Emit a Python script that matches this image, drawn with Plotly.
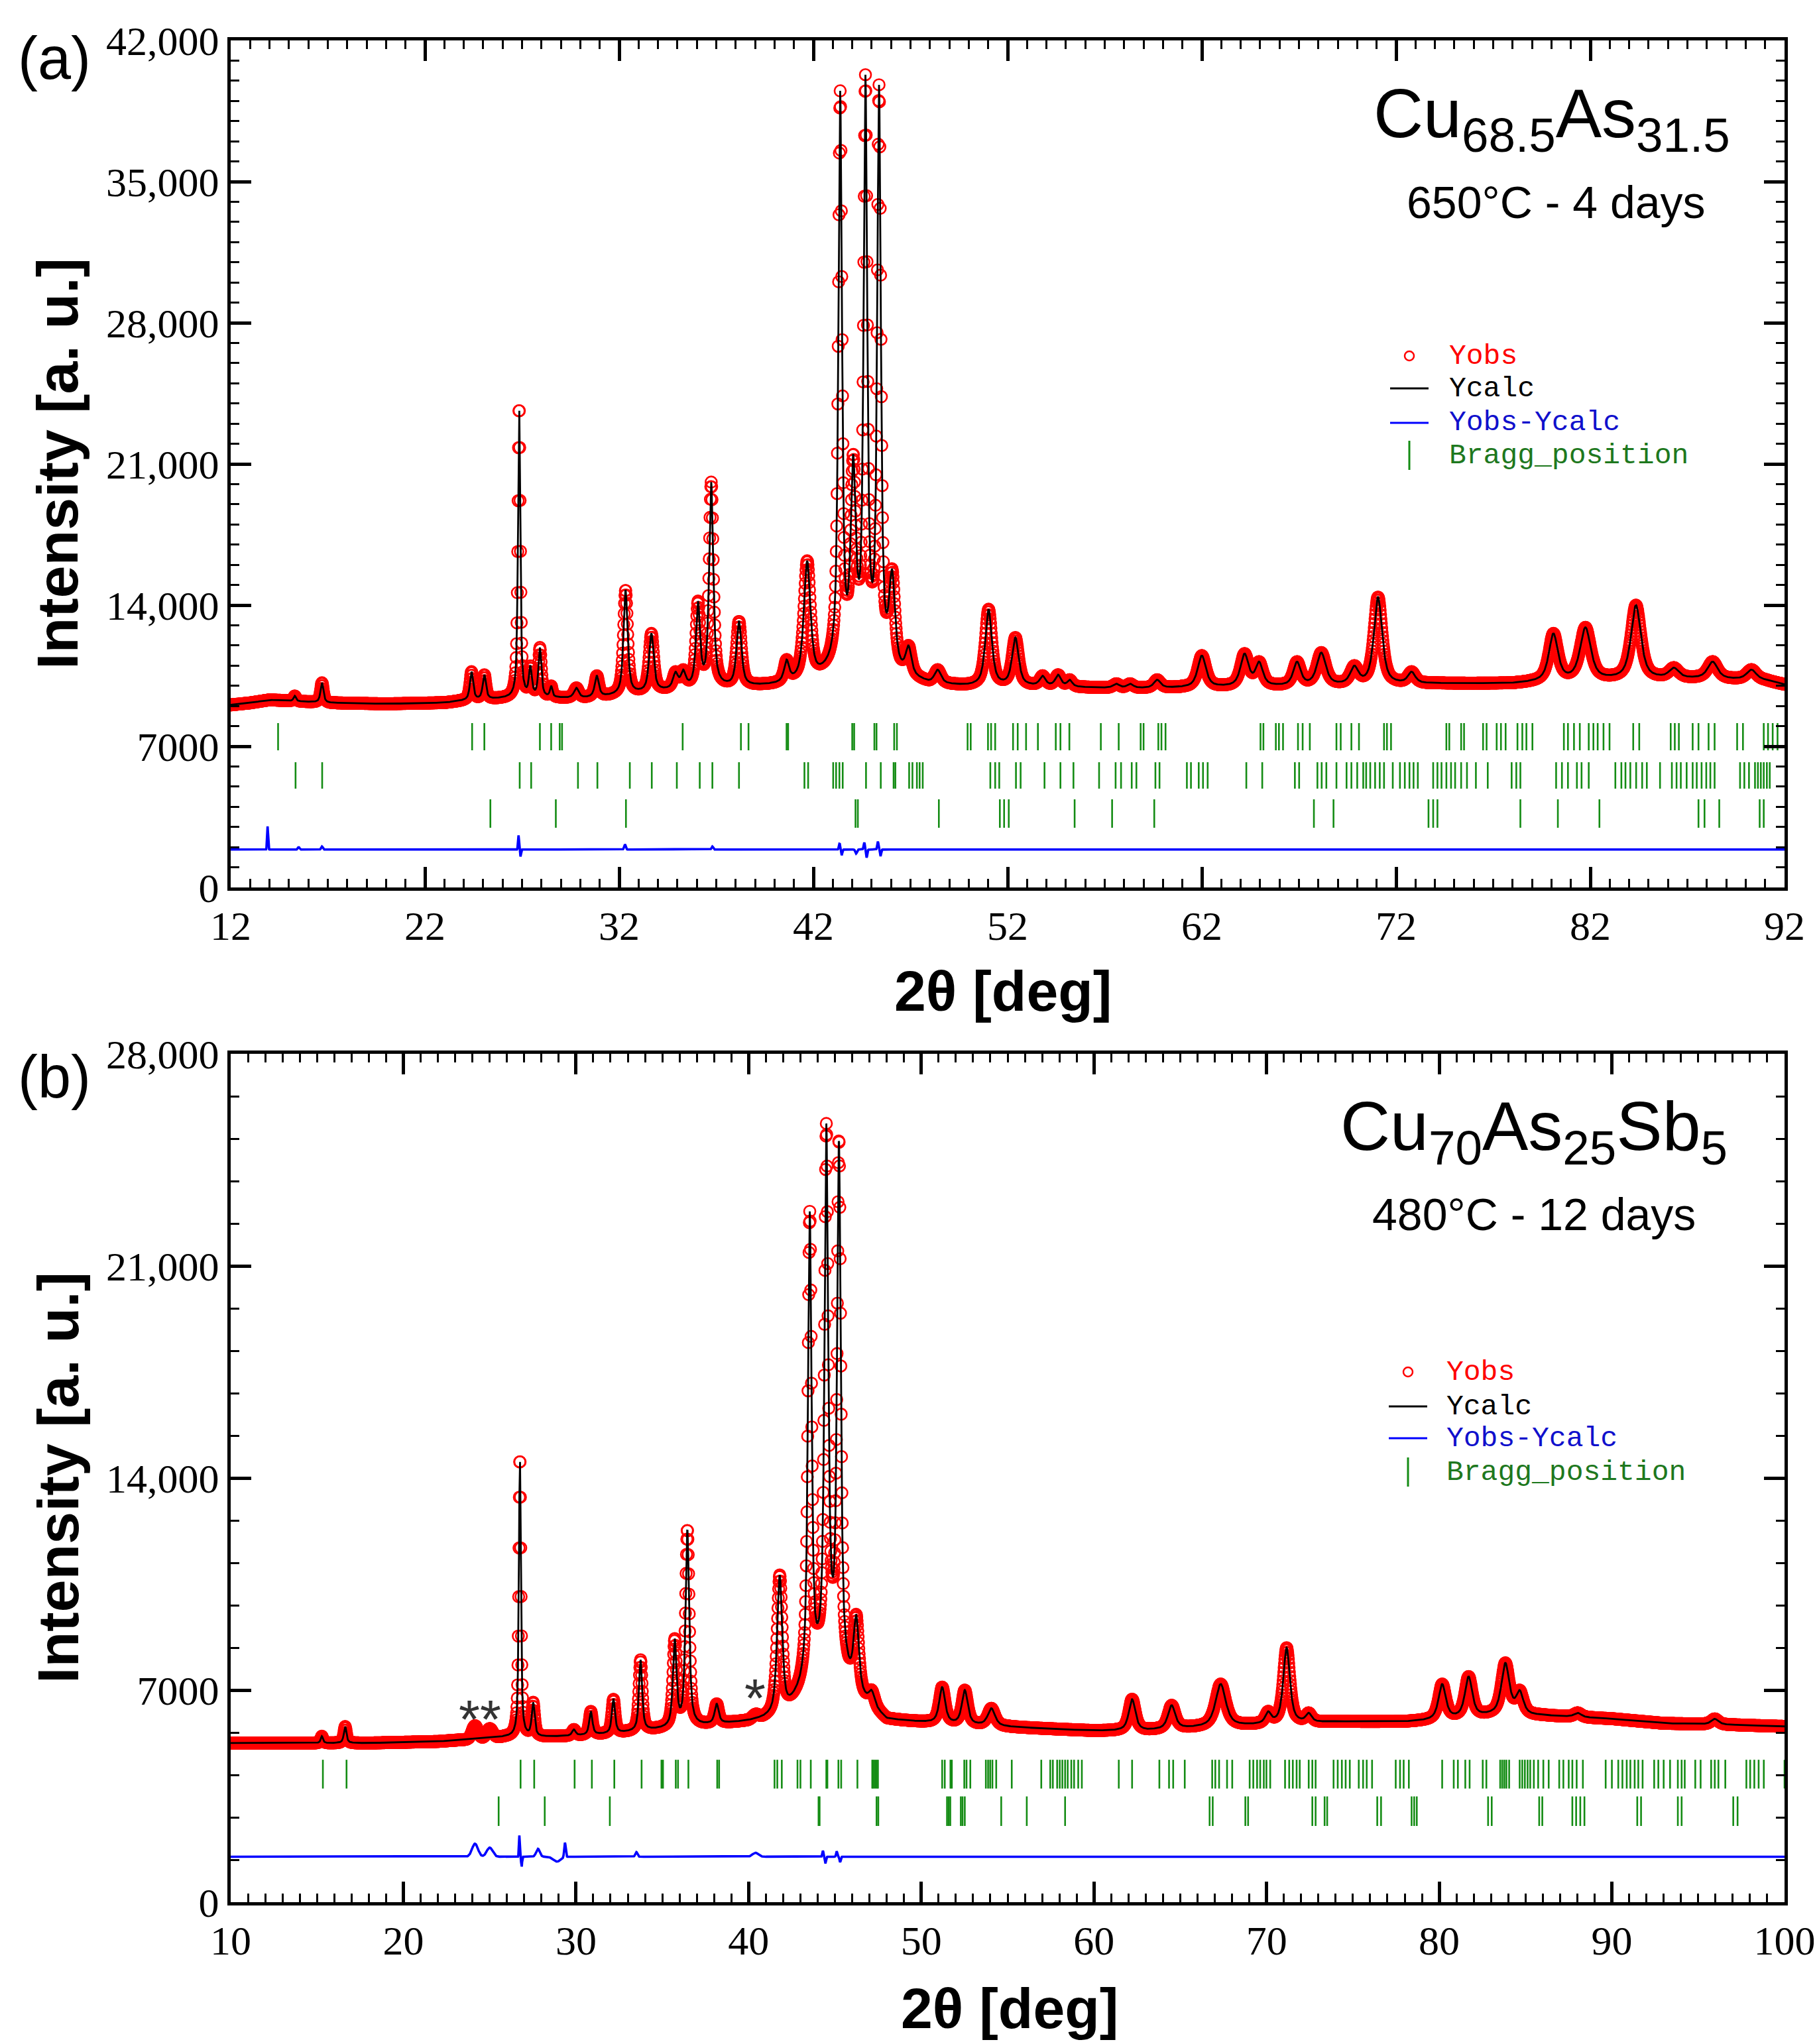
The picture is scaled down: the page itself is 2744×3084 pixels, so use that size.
import numpy as np
import plotly.graph_objects as go

# ======================= Panel (a): Cu68.5As31.5, 650 C - 4 days =======================
A_RANGE = [12, 92]
A_STEP = 0.02
A_BG_X = [12, 13, 14, 15, 17, 20, 23, 24, 26, 28, 30, 32, 34, 36, 38, 40, 42, 43.5, 44.7, 46, 48, 50, 54, 58, 62, 66, 70, 74, 78, 80, 84, 88, 91, 92]
A_BG_Y = [9050, 9150, 9300, 9250, 9150, 9100, 9150, 9250, 9350, 9400, 9350, 9500, 9700, 9850, 9900, 10000, 10200, 11000, 11500, 10600, 10050, 9950, 9950, 9850, 9900, 9950, 10000, 10100, 10100, 10200, 10300, 10350, 10250, 10050]
A_PEAK_POS = [15.3, 16.7, 24.4, 25.06, 26.85, 27.43, 27.92, 28.5, 29.8, 30.85, 32.33, 33.66, 34.9, 35.3, 36.06, 36.74,
              38.17, 40.62, 41.68, 43.38, 44.05, 44.68, 45.38, 46.05, 46.9, 48.4, 51.02, 52.4, 53.8, 54.6, 55.2,
              57.6, 58.3, 59.7, 62.0, 64.2, 64.95, 66.9, 68.15, 69.85, 71.07, 72.8, 80.1, 81.75, 84.35, 86.3, 88.3, 90.3]
A_PEAK_TOP = [9500, 10150, 10700, 10550, 23900, 11000, 11900, 10000, 9900, 10500, 14750, 12600, 10700, 10800, 14200, 20100,
              13200, 11300, 16200, 39500, 21500, 40300, 39800, 15800, 12000, 10800, 13800, 12400, 10500, 10550, 10300,
              10100, 10100, 10300, 11500, 11600, 11200, 11200, 11650, 11000, 14400, 10700, 12600, 12900, 14000, 10900, 11200, 10800]
A_PEAK_FWHM = [0.15, 0.18, 0.2, 0.2, 0.14, 0.18, 0.18, 0.15, 0.3, 0.25, 0.25, 0.28, 0.3, 0.3, 0.25, 0.25,
               0.3, 0.3, 0.4, 0.22, 0.3, 0.22, 0.22, 0.35, 0.35, 0.4, 0.4, 0.4, 0.35, 0.35, 0.3,
               0.4, 0.4, 0.4, 0.5, 0.5, 0.45, 0.45, 0.55, 0.5, 0.5, 0.45, 0.55, 0.65, 0.6, 0.6, 0.6, 0.6]
A_DIFF_OFFSET = 1880
A_RESID_POS = [13.9, 15.5, 16.7, 26.82, 26.92, 32.3, 36.8, 43.35, 43.45, 44.2, 44.62, 44.74, 45.32, 45.45]
A_RESID_AMP = [1150, 120, 150, 700, -350, 250, 150, 300, -300, -200, 350, -400, 400, -350]
A_RESID_W = [0.06, 0.1, 0.1, 0.06, 0.06, 0.1, 0.1, 0.08, 0.08, 0.1, 0.08, 0.08, 0.08, 0.08]
A_BRAGG_1 = [14.44, 24.43, 25.06, 27.92, 28.5, 28.94, 29.06, 35.27, 38.27, 38.66, 40.62, 40.7,
             44.0, 44.1, 45.14, 45.25, 46.16, 46.3, 49.94, 50.1, 50.99, 51.15, 51.36, 52.28, 52.52, 52.95,
             53.56, 54.48, 54.72, 55.18, 56.8, 57.72, 58.85, 59.0, 59.76, 59.92, 60.13, 65.02, 65.17, 65.81,
             65.97, 66.18, 66.95, 67.19, 67.56, 68.93, 69.15, 69.7, 70.09, 71.38, 71.53, 71.74, 74.59, 74.74,
             75.35, 75.5, 76.48, 76.66, 77.18, 77.4, 77.64, 78.25, 78.5, 78.71, 79.02, 80.64, 80.85, 81.16,
             81.46, 81.92, 82.16, 82.38, 82.68, 82.99, 84.21, 84.52, 86.14, 86.35, 86.56, 87.27, 87.57, 88.09,
             88.4, 89.56, 89.86, 90.93, 91.15, 91.39, 91.64]
A_BRAGG_2 = [15.34, 16.71, 26.88, 27.47, 29.88, 30.88, 32.55, 33.68, 34.97, 36.15, 36.8, 38.17, 41.54, 41.73,
             43.02, 43.17, 43.34, 43.51, 44.71, 45.47, 46.13, 46.22, 46.93, 47.1, 47.33, 47.47, 47.63, 51.11,
             51.36, 51.57, 52.43, 52.67, 53.9, 54.72, 55.39, 56.71, 57.56, 57.84, 58.39, 58.63, 59.61, 59.82,
             61.23, 61.44, 61.84, 62.06, 62.3, 64.29, 65.11, 66.79, 67.01, 67.95, 68.17, 68.41, 68.93, 69.45,
             69.7, 70.0, 70.31, 70.46, 70.67, 70.92, 71.16, 71.38, 71.83, 72.2, 72.45, 72.69, 72.9, 73.12,
             73.91, 74.13, 74.34, 74.59, 74.83, 75.04, 75.35, 75.65, 76.11, 76.72, 77.95, 78.19, 78.4, 80.24,
             80.54, 80.85, 81.31, 81.55, 81.92, 83.29, 83.6, 83.81, 84.06, 84.36, 84.67, 84.91, 85.59, 86.2,
             86.44, 86.66, 86.96, 87.27, 87.48, 87.73, 87.97, 88.18, 88.4, 89.71, 89.93, 90.17, 90.48, 90.63,
             90.78, 90.93, 91.09, 91.24]
A_BRAGG_3 = [25.37, 28.74, 32.35, 44.17, 44.29, 48.46, 51.6, 51.82, 52.06, 55.45, 57.38, 59.55, 67.77, 68.78,
             73.67, 73.91, 74.13, 78.4, 80.33, 82.47, 87.57, 87.88, 88.64, 90.72, 90.93]
A_BRAGG_ROWS = [(6800, 8150), (4900, 6210), (2960, 4370)]
A_YTICKS = [0, 7000, 14000, 21000, 28000, 35000, 42000]
A_YTICKTEXT = ["0", "7000", "14,000", "21,000", "28,000", "35,000", "42,000"]
A_YRANGE = [0, 42000]

# ======================= Panel (b): Cu70As25Sb5, 480 C - 12 days =======================
B_RANGE = [10, 100]
B_STEP = 0.02
B_BG_X = [10, 14, 18, 22, 24, 26, 28, 30, 32, 34, 36, 38, 40, 42, 43.5, 44.7, 46.2, 48, 52, 56, 58, 60, 63, 66, 70, 74, 78, 80, 83, 86, 90, 93, 97, 100]
B_BG_Y = [5250, 5250, 5250, 5300, 5380, 5450, 5450, 5480, 5550, 5650, 5750, 5850, 5950, 6100, 7200, 8200, 6800, 6000, 5850, 5750, 5700, 5650, 5650, 5750, 5850, 5950, 5950, 6000, 6150, 6150, 6050, 5900, 5850, 5800]
B_PEAK_POS = [15.28, 16.63, 26.75, 27.52, 29.88, 30.86, 32.17, 33.74, 35.72, 36.45, 38.15, 41.8, 43.54, 44.5, 45.23,
              46.23, 47.13, 51.21, 52.52, 54.06, 62.21, 64.5, 67.34, 70.09, 71.16, 72.44, 80.17, 81.7, 83.83, 84.66,
              88.02, 95.96]
B_PEAK_TOP = [5480, 5800, 14700, 6600, 5700, 6300, 6700, 8000, 8700, 12300, 6550, 10800, 22800, 25700, 25200,
              9500, 7000, 7100, 7000, 6400, 6700, 6500, 7200, 6300, 8400, 6250, 7200, 7450, 7900, 7000,
              6250, 6050]
B_PEAK_FWHM = [0.15, 0.18, 0.14, 0.2, 0.25, 0.22, 0.22, 0.22, 0.25, 0.25, 0.28, 0.35, 0.25, 0.25, 0.25,
               0.35, 0.4, 0.4, 0.4, 0.5, 0.45, 0.5, 0.7, 0.4, 0.45, 0.4, 0.5, 0.5, 0.55, 0.5,
               0.5, 0.5]
B_IMPURITY_POS = [24.15, 25.0, 40.4]
B_IMPURITY_AMP = [430, 300, 130]
B_IMPURITY_W = [0.4, 0.4, 0.4]
B_DIFF_OFFSET = 1500
B_RESID_POS = [26.72, 26.85, 27.8, 28.9, 29.36, 33.5, 44.3, 44.45, 45.1, 45.3]
B_RESID_AMP = [700, -350, 260, -160, 480, 150, 200, -200, 180, -180]
B_RESID_W = [0.06, 0.06, 0.25, 0.5, 0.1, 0.15, 0.08, 0.08, 0.08, 0.08]
B_BRAGG_1 = [15.34, 16.71, 26.79, 27.58, 29.92, 30.92, 32.22, 33.8, 34.95, 35.04, 35.78, 35.91, 36.51, 38.18,
             38.29, 41.5, 41.66, 41.92, 42.83, 43.0, 43.6, 44.5, 44.56, 45.2, 45.36, 46.3, 47.16, 47.23, 47.32,
             47.41, 47.49, 51.21, 51.36, 51.69, 51.77, 52.49, 52.62, 52.84, 53.74, 53.87, 53.99, 54.12, 54.34,
             55.24, 56.95, 57.47, 57.62, 57.87, 58.02, 58.17, 58.33, 58.48, 58.69, 58.85, 59.09, 59.3, 61.44,
             62.21, 63.79, 64.35, 64.59, 65.26, 66.85, 67.03, 67.25, 67.71, 68.01, 69.02, 69.23, 69.45, 69.63,
             69.84, 69.99, 70.21, 71.07, 71.31, 71.52, 71.74, 71.92, 72.44, 72.65, 72.84, 73.88, 74.12, 74.36,
             74.58, 74.82, 75.34, 75.59, 75.8, 76.11, 77.48, 77.73, 77.94, 78.24, 80.17, 80.84, 81.08, 81.51,
             81.76, 82.52, 82.73, 83.53, 83.65, 83.77, 83.89, 84.05, 84.66, 84.81, 84.96, 85.12, 85.27, 85.48,
             85.73, 86.03, 86.34, 86.95, 87.19, 87.5, 87.71, 87.96, 88.32, 89.64, 90.0, 90.37, 90.61, 90.86,
             91.07, 91.32, 91.53, 91.78, 92.45, 92.69, 93.0, 93.37, 93.82, 94.04, 94.22, 94.83, 95.14, 95.75,
             95.96, 96.17, 96.57, 97.79, 98.01, 98.25, 98.5, 98.8, 100.0]
B_BRAGG_2 = [25.52, 28.19, 31.96, 44.05, 44.11, 47.41, 47.51, 51.49, 51.59, 51.68, 52.29, 52.39, 52.52, 54.63,
             56.11, 58.33, 66.7, 66.88, 68.77, 68.93, 72.65, 72.84, 73.36, 73.51, 76.41, 76.63, 78.4, 78.55,
             78.7, 82.83, 83.04, 85.79, 85.97, 87.71, 87.93, 88.17, 88.41, 91.47, 91.69, 93.82, 94.04, 97.03, 97.28]
B_BRAGG_ROWS = [(3750, 4700), (2515, 3490)]
B_YTICKS = [0, 7000, 14000, 21000, 28000]
B_YTICKTEXT = ["0", "7000", "14,000", "21,000", "28,000"]
B_YRANGE = [0, 28000]

PEAK_ETA = 0.7  # Lorentzian fraction of the pseudo-Voigt profile

LEGEND_NAMES = ["Yobs", "Ycalc", "Yobs-Ycalc", "Bragg_position"]


# ------------------------------------------------------------------------------------------
def pv(x, x0, w, eta=PEAK_ETA):
    d2 = (2.0 * (np.asarray(x, float) - x0) / w) ** 2
    return eta / (1.0 + d2) + (1.0 - eta) * np.exp(-np.log(2.0) * d2)


def gauss(x, x0, w):
    return np.exp(-np.log(2.0) * (2.0 * (x - x0) / w) ** 2)


def build_pattern(rng, step, bgx, bgy, pos, top, fwhm, imp=None):
    x = np.arange(rng[0], rng[1] + step / 2, step)
    bg = np.interp(x, bgx, bgy)
    pos = np.asarray(pos, float)
    fwhm = np.asarray(fwhm, float)
    # amplitudes chosen so that the summed profile reaches the read peak tops
    M = np.array([[pv(pi, pj, wj) for pj, wj in zip(pos, fwhm)] for pi in pos])
    rhs = np.asarray(top, float) - np.interp(pos, bgx, bgy)
    amps = np.clip(np.linalg.solve(M, rhs), 0, None)
    calc = bg.copy()
    for p, a, w in zip(pos, amps, fwhm):
        calc += a * pv(x, p, w)
    extra = np.zeros_like(x)
    if imp is not None:
        for p, a, w in zip(*imp):
            extra += a * gauss(x, p, w)
    return x, calc, calc + extra, extra


def resid(x, pos, amp, w):
    r = np.zeros_like(x)
    for p, a, ww in zip(pos, amp, w):
        r += a * gauss(x, p, ww)
    return r


def bragg_xy(positions, lo, hi):
    xs, ys = [], []
    for p in positions:
        xs += [p, p, None]
        ys += [lo, hi, None]
    return xs, ys


ax, acalc, aobs, aextra = build_pattern(A_RANGE, A_STEP, A_BG_X, A_BG_Y, A_PEAK_POS, A_PEAK_TOP, A_PEAK_FWHM)
adiff = A_DIFF_OFFSET + aextra + resid(ax, A_RESID_POS, A_RESID_AMP, A_RESID_W)

bx, bcalc, bobs, bextra = build_pattern(B_RANGE, B_STEP, B_BG_X, B_BG_Y, B_PEAK_POS, B_PEAK_TOP, B_PEAK_FWHM,
                                        (B_IMPURITY_POS, B_IMPURITY_AMP, B_IMPURITY_W))
bdiff = B_DIFF_OFFSET + bextra + resid(bx, B_RESID_POS, B_RESID_AMP, B_RESID_W)

RED = "#FF0000"
BLUE = "#0000FF"
GREEN = "rgb(20,140,20)"

fig = go.Figure()


def add_panel(x, obs, calc, diff, braggs, rows, xa, ya):
    fig.add_trace(go.Scatter(x=x, y=obs, mode="markers", xaxis=xa, yaxis=ya, showlegend=False,
                             marker=dict(symbol="circle-open", size=17, color=RED, line=dict(width=2.6, color=RED))))
    fig.add_trace(go.Scatter(x=x, y=calc, mode="lines", xaxis=xa, yaxis=ya, showlegend=False,
                             line=dict(color="black", width=2.8)))
    fig.add_trace(go.Scatter(x=x, y=diff, mode="lines", xaxis=xa, yaxis=ya, showlegend=False,
                             line=dict(color=BLUE, width=3.6)))
    for pos, (lo, hi) in zip(braggs, rows):
        bxs, bys = bragg_xy(pos, lo, hi)
        fig.add_trace(go.Scatter(x=bxs, y=bys, mode="lines", xaxis=xa, yaxis=ya, showlegend=False,
                                 line=dict(color=GREEN, width=2.6)))


add_panel(ax, aobs, acalc, adiff, [A_BRAGG_1, A_BRAGG_2, A_BRAGG_3], A_BRAGG_ROWS, "x", "y")
add_panel(bx, bobs, bcalc, bdiff, [B_BRAGG_1, B_BRAGG_2], B_BRAGG_ROWS, "x2", "y2")

W, H = 2744, 3084


def px(x):
    return x / W


def py(y):
    return 1 - y / H


XDOM = [px(340), px(2684)]
TICKFONT = dict(family="Liberation Serif", size=62, color="black")


def xaxis_cfg(rng, anchor):
    return dict(domain=XDOM, range=rng, anchor=anchor, tickmode="linear", tick0=rng[0], dtick=10,
                ticks="inside", ticklen=31, tickwidth=5, tickcolor="black", automargin=False,
                showline=True, linewidth=5, linecolor="black", mirror="allticks",
                showgrid=False, zeroline=False, tickfont=TICKFONT, ticklabelstandoff=0,
                minor=dict(tick0=rng[0], dtick=1, ticks="inside", ticklen=13, tickwidth=2.5,
                           tickcolor="black", showgrid=False))


def yaxis_cfg(dom, rng, vals, text, minor_dt, anchor):
    return dict(domain=dom, range=rng, anchor=anchor, tickmode="array", tickvals=vals, ticktext=text,
                ticks="inside", ticklen=31, tickwidth=5, tickcolor="black", automargin=False,
                showline=True, linewidth=5, linecolor="black", mirror="allticks",
                showgrid=False, zeroline=False, tickfont=TICKFONT, ticklabelstandoff=0,
                minor=dict(tick0=0, dtick=minor_dt, ticks="inside", ticklen=13, tickwidth=2.5,
                           tickcolor="black", showgrid=False))


fig.update_layout(
    width=W, height=H, margin=dict(l=0, r=0, t=0, b=0, pad=0, autoexpand=False),
    paper_bgcolor="white", plot_bgcolor="white", showlegend=False,
    xaxis=xaxis_cfg(A_RANGE, "y"),
    yaxis=yaxis_cfg([py(1331), py(53)], A_YRANGE, A_YTICKS, A_YTICKTEXT, 1000, "x"),
    xaxis2=xaxis_cfg(B_RANGE, "y2"),
    yaxis2=yaxis_cfg([py(2862), py(1582)], B_YRANGE, B_YTICKS, B_YTICKTEXT, 1400, "x2"),
)

ann = []
shapes = []
SANS = "Liberation Sans"
MONO = "Liberation Mono"

# axis titles and panel labels
for yc in (692, 2222):
    ann.append(dict(x=px(79), y=py(yc), xref="paper", yref="paper", text="<b>Intensity [a. u.]</b>",
                    textangle=-90, showarrow=False, font=dict(family=SANS, size=88, color="black"),
                    xanchor="center", yanchor="middle"))
for xc, yc in ((1505, 1487), (1515, 3022)):
    ann.append(dict(x=px(xc), y=py(yc), xref="paper", yref="paper", text="<b>2θ [deg]</b>",
                    showarrow=False, font=dict(family=SANS, size=86, color="black"),
                    xanchor="center", yanchor="middle"))
for lab, yc in (("(a)", 80), ("(b)", 1617)):
    ann.append(dict(x=px(74), y=py(yc), xref="paper", yref="paper", text=lab, showarrow=False,
                    font=dict(family=SANS, size=90, color="black"), xanchor="center", yanchor="middle"))

# sample titles
ann.append(dict(x=px(2333), y=py(170), xref="paper", yref="paper",
                text="Cu<sub>68.5</sub>As<sub>31.5</sub>", showarrow=False,
                font=dict(family=SANS, size=104, color="black"), xanchor="center", yanchor="middle"))
ann.append(dict(x=px(2339), y=py(297), xref="paper", yref="paper", text="650°C - 4 days", showarrow=False,
                font=dict(family=SANS, size=68, color="black"), xanchor="center", yanchor="middle"))
ann.append(dict(x=px(2306), y=py(1698), xref="paper", yref="paper",
                text="Cu<sub>70</sub>As<sub>25</sub>Sb<sub>5</sub>", showarrow=False,
                font=dict(family=SANS, size=104, color="black"), xanchor="center", yanchor="middle"))
ann.append(dict(x=px(2306), y=py(1824), xref="paper", yref="paper", text="480°C - 12 days", showarrow=False,
                font=dict(family=SANS, size=68, color="black"), xanchor="center", yanchor="middle"))

# impurity asterisks in panel (b)
ann.append(dict(x=24.45, y=6050, xref="x2", yref="y2", text="**", showarrow=False,
                font=dict(family=SANS, size=82, color="#333333"), xanchor="center", yanchor="middle"))
ann.append(dict(x=40.37, y=6750, xref="x2", yref="y2", text="*", showarrow=False,
                font=dict(family=SANS, size=82, color="#333333"), xanchor="center", yanchor="middle"))

# hand-drawn legends
LEG_COLORS = [RED, "black", "#1010CC", "rgb(30,120,30)"]
for (sx, tx, rows) in ((2118, 2176, (529, 578, 630, 679)), (2116, 2172, (2062, 2114, 2162, 2213))):
    r = 7
    shapes.append(dict(type="circle", xref="paper", yref="paper", x0=px(sx - r), x1=px(sx + r),
                       y0=py(rows[0] + r), y1=py(rows[0] - r), line=dict(color=RED, width=2.5)))
    shapes.append(dict(type="line", xref="paper", yref="paper", x0=px(sx - 29), x1=px(sx + 29),
                       y0=py(rows[1]), y1=py(rows[1]), line=dict(color="black", width=3)))
    shapes.append(dict(type="line", xref="paper", yref="paper", x0=px(sx - 29), x1=px(sx + 29),
                       y0=py(rows[2]), y1=py(rows[2]), line=dict(color=BLUE, width=3)))
    shapes.append(dict(type="line", xref="paper", yref="paper", x0=px(sx), x1=px(sx),
                       y0=py(rows[3] - 22), y1=py(rows[3] + 22), line=dict(color=GREEN, width=3)))
    for name, col, yr in zip(LEGEND_NAMES, LEG_COLORS, rows):
        ann.append(dict(x=px(tx), y=py(yr), xref="paper", yref="paper", text=name, showarrow=False,
                        font=dict(family=MONO, size=43, color=col), xanchor="left", yanchor="middle"))

fig.update_layout(annotations=ann, shapes=shapes)
fig.write_html("out.html")
